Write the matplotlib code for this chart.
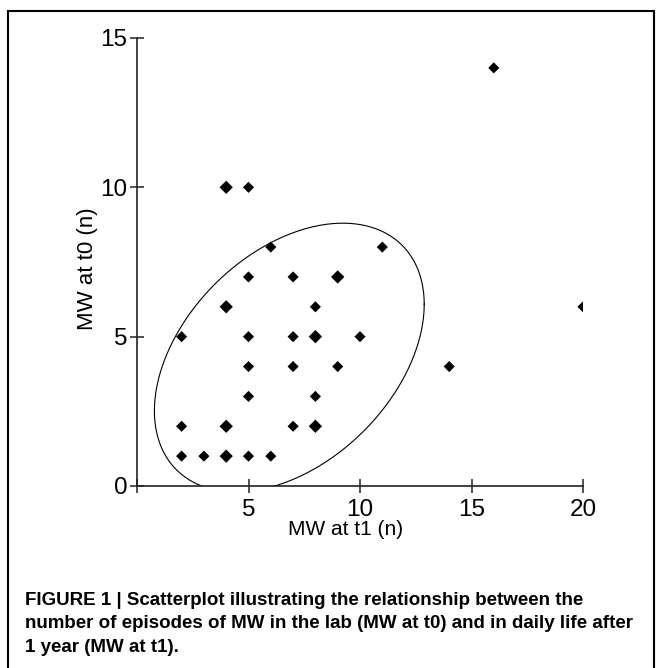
import numpy as np
import matplotlib
matplotlib.use("Agg")
import matplotlib.pyplot as plt

plt.rcParams['font.family'] = ['Liberation Sans', 'DejaVu Sans']

# Data: MW at t1 (x) vs MW at t0 (y)
mw_t1 = [4, 5, 6, 5, 7, 9, 11, 16, 4, 8, 20, 2, 5, 7, 8, 10,
         5, 7, 9, 14, 5, 8, 2, 4, 7, 8, 2, 3, 4, 5, 6]
mw_t0 = [10, 10, 8, 7, 7, 7, 8, 14, 6, 6, 6, 5, 5, 5, 5, 5,
         4, 4, 4, 4, 3, 3, 2, 2, 2, 2, 1, 1, 1, 1, 1]
# overlapping cases (drawn as slightly larger dots)
n_cases = [2, 1, 1, 1, 1, 2, 1, 1, 2, 1, 1, 1, 1, 1, 2, 1,
           1, 1, 1, 1, 1, 1, 1, 2, 1, 2, 1, 1, 2, 1, 1]

# ellipse drawn around the main cluster
ell_center = [6.83, 4.3]
ell_cov = [[36.6, 10.8], [10.8, 20.25]]

x_ticks = [0, 5, 10, 15, 20]
x_ticklabels = ['', '5', '10', '15', '20']
y_ticks = [0, 5, 10, 15]

caption = [
    "FIGURE 1 | Scatterplot illustrating the relationship between the",
    "number of episodes of MW in the lab (MW at t0) and in daily life after",
    "1 year (MW at t1).",
]

W, H = 662, 668
fig = plt.figure(figsize=(W / 100, H / 100), dpi=100)
ax = fig.add_axes([137 / W, 1 - 486 / H, (583 - 137) / W, (486 - 38) / H])

sizes = [32 if n == 1 else 46 for n in n_cases]
ax.scatter(mw_t1, mw_t0, s=sizes, marker='D', color='black', linewidths=0, zorder=3)

# ellipse from centre + covariance
t = np.linspace(0, 2 * np.pi, 400)
L = np.linalg.cholesky(np.array(ell_cov))
pts = L @ np.vstack([np.cos(t), np.sin(t)])
ax.plot(pts[0] + ell_center[0], pts[1] + ell_center[1], color='black', lw=0.8)

ax.set_xlim(0, 20)
ax.set_ylim(0, 15)
ax.set_xticks(x_ticks)
ax.set_xticklabels(x_ticklabels)
ax.set_yticks(y_ticks)
for s in ['top', 'right']:
    ax.spines[s].set_visible(False)
for s in ['left', 'bottom']:
    ax.spines[s].set_linewidth(1.2)
    ax.spines[s].set_color('#222222')
ax.tick_params(direction='inout', length=9.5, width=1.1, labelsize=17.5,
               color='#222222', pad=2)
ax.tick_params(axis='x', pad=4.5)

ax.set_xlabel('MW at t1 (n)', fontsize=15)
ax.set_ylabel('MW at t0 (n)', fontsize=16)
ax.xaxis.set_label_coords(0.4675, -0.075)
ax.yaxis.set_label_coords(-0.087, 0.484)

# caption
for i, line in enumerate(caption):
    fig.text(25 / W, 1 - (605 + 23.5 * i) / H, line, fontsize=13.5,
             fontweight='bold', va='baseline', ha='left')

# frame around the figure panel (open at the bottom)
fig.add_artist(plt.Rectangle((8 / W, -0.1), (654 - 8) / W, 1.1 - 11 / H,
                             transform=fig.transFigure, fill=False,
                             lw=1.5, color='black'))

fig.savefig('out.png', dpi=100)
